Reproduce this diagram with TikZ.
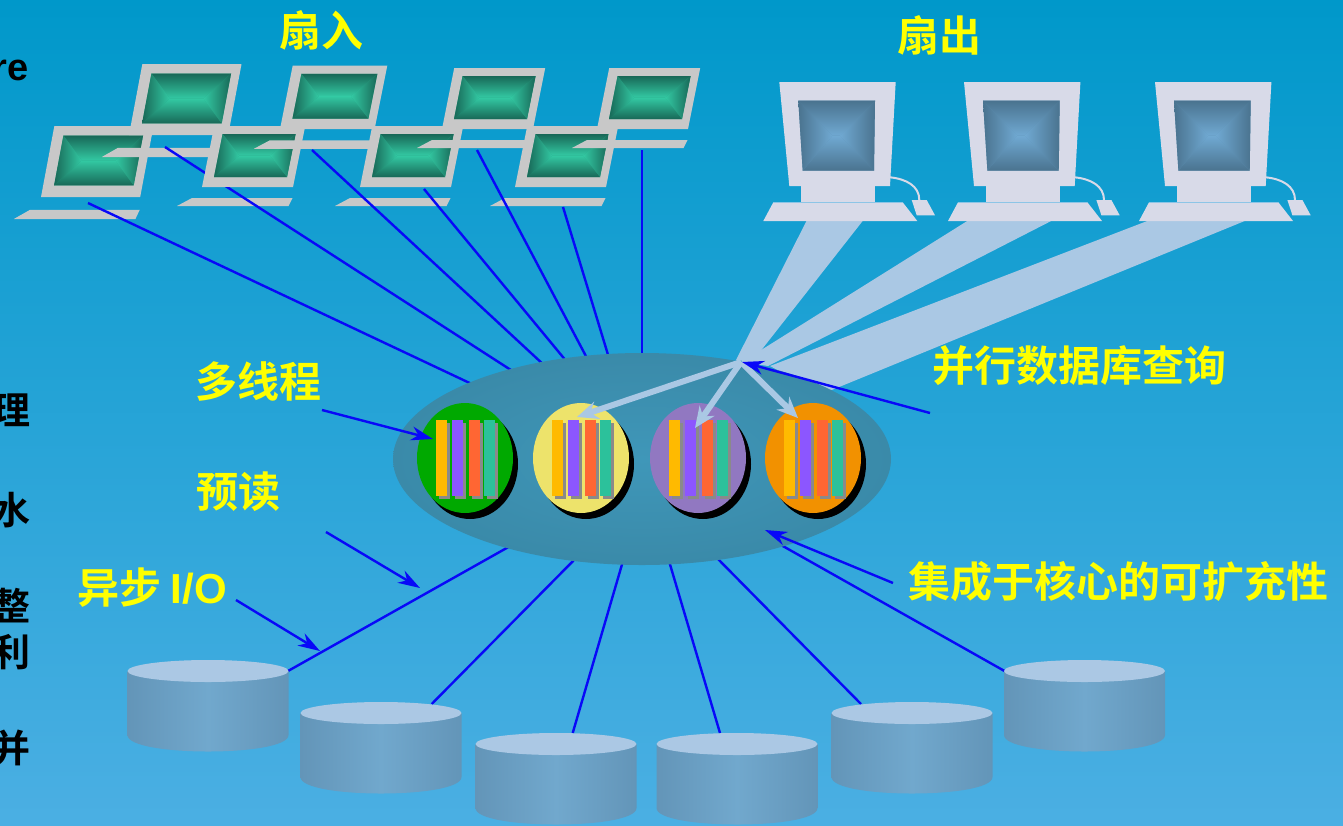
\documentclass[tikz,border=0pt]{standalone}
\usepackage{fontspec}
\usetikzlibrary{arrows.meta,calc,shapes.geometric}
\newfontfamily\cjkfont{Noto Sans CJK SC}[BoldFont={Noto Sans CJK SC Bold}]
\newfontfamily\sansfont{Liberation Sans}

\definecolor{bgtop}{HTML}{0098CA}
\definecolor{bgbot}{HTML}{4BAFE3}
\definecolor{lidgray}{HTML}{C8C8C8}
\definecolor{lapdark}{HTML}{186857}
\definecolor{lapbright}{HTML}{33C9A3}
\definecolor{montone}{HTML}{D8DAE8}
\definecolor{mondark}{HTML}{4A738F}
\definecolor{monbright}{HTML}{70A9D2}
\definecolor{keyline}{HTML}{8DC5E6}
\definecolor{beam}{HTML}{AAC8E4}
\definecolor{coreblue}{HTML}{3A8AA9}
\definecolor{corelight}{HTML}{3F97B9}
\definecolor{disktop}{HTML}{ABC8E4}
\definecolor{diskside}{HTML}{6395B8}
\definecolor{diskmid}{HTML}{71A8CD}
\definecolor{wireblue}{HTML}{0808F8}
\definecolor{labelyellow}{HTML}{FFFF00}
\definecolor{cpugreen}{HTML}{00A900}
\definecolor{cpuyellow}{HTML}{EDE36B}
\definecolor{cpupurple}{HTML}{9178C1}
\definecolor{cpuorange}{HTML}{F29100}
\definecolor{barA}{HTML}{FFBA00}
\definecolor{barB}{HTML}{8C56FF}
\definecolor{barC}{HTML}{FF6633}
\definecolor{barD}{HTML}{2CC19B}
\definecolor{barshadow}{HTML}{8A8A8A}

\tikzset{
  wire/.style={draw=wireblue, line width=2.4pt},
  bluearrow/.style={draw=wireblue, line width=2.4pt,
    -{Stealth[length=22pt,width=14pt,inset=7pt]}},
  lightarrow/.style={draw=beam, line width=6pt,
    -{Stealth[length=21pt,width=18pt,inset=7pt]}},
  lbl/.style={text=labelyellow, inner sep=0pt,
    font=\cjkfont\bfseries\fontsize{42}{46}\selectfont},
  cutcjk/.style={text=black, inner sep=0pt, anchor=east,
    font=\cjkfont\bfseries\fontsize{38}{42}\selectfont},
  cutlatin/.style={text=black, inner sep=0pt, anchor=east,
    font=\sansfont\bfseries\fontsize{38}{42}\selectfont},
}

% screen with a "pillow" glow: needs (sTL),(sTR),(sBR),(sBL)
\newcommand\pillow[3]{%
  \coordinate (sC) at ($(sTL)!0.5!(sBR)$);
  \coordinate (sL) at ($(sTL)!0.5!(sBL)$);
  \coordinate (sR) at ($(sTR)!0.5!(sBR)$);
  \coordinate (sM1) at ($(sC)!#3!(sL)$);
  \coordinate (sM2) at ($(sC)!#3!(sR)$);
  \fill[#2!55!#1] (sTL) -- (sTR) -- (sBR) -- (sBL) -- cycle;
  \shade[top color=#1, bottom color=#2] (sTL) -- (sTR) -- (sM2) -- (sM1) -- cycle;
  \shade[top color=#2, bottom color=#1] (sBL) -- (sBR) -- (sM2) -- (sM1) -- cycle;
  \shade[left color=#1, right color=#2] (sTL) -- (sM1) -- (sBL) -- cycle;
  \shade[left color=#2, right color=#1] (sTR) -- (sM2) -- (sBR) -- cycle;
}

% laptop: #1,#2 lower left corner of the lid, #3 xscale, #4 yscale
\newcommand\drawlaptop[4]{%
  \begin{scope}[shift={(#1,#2)}, xscale=#3, yscale=#4]
    \fill[lidgray] (0,0) -- (91,0) -- (103.2,-61) -- (12.2,-61) -- cycle;
    \coordinate (sTL) at (20.6,-53);
    \coordinate (sTR) at (93.6,-53);
    \coordinate (sBR) at (85,-10);
    \coordinate (sBL) at (12,-10);
    \pillow{lapdark}{lapbright}{0.42}
    \fill[lidgray] (-25,19) -- (-10,11) -- (90.6,11) -- (86.6,19) -- cycle;
  \end{scope}}

% desktop terminal: #1,#2 top left corner of the monitor
\newcommand\drawmonitor[2]{%
  \begin{scope}[shift={(#1,#2)}]
    \fill[montone] (0,0) -- (116.4,0) -- (110.7,104) -- (10,104) -- cycle;
    \coordinate (sTL) at (19,18.7);
    \coordinate (sTR) at (95.7,18.7);
    \coordinate (sBR) at (94.7,88.7);
    \coordinate (sBL) at (23.4,88.7);
    \pillow{mondark}{monbright}{0.1}
    \fill[montone] (21.7,103) rectangle (95.7,120.6);
    \draw[montone, line width=2pt] (110.7,95.3) .. controls (127,97) and (140,104) .. (140,118);
    \fill[montone] (-6,120.3) -- (123.4,120.3) -- (138,139) -- (-16,139) -- cycle;
    \draw[keyline, line width=0.8pt] (-6,120.3) -- (123.4,120.3);
    \fill[montone] (132.4,118) -- (147.4,118) -- (155.7,133.3) -- (137.4,133.3) -- cycle;
  \end{scope}}

% processor disc with its four bars: #1 centre x, #2 fill colour
\newcommand\drawcpu[2]{%
  \fill[black] (#1+5,464) ellipse [x radius=48, y radius=55];
  \fill[#2] (#1,458) ellipse [x radius=48, y radius=55];
  \foreach \bx/\bc in {-29/barA,-13/barB,4/barC,19/barD}{
    \fill[barshadow] (#1+\bx+3,423) rectangle ++(10.5,76);
    \fill[\bc] (#1+\bx,420) rectangle ++(10.5,76);
  }}

% disk drum: #1 centre x, #2 centre y of the top face
\newcommand\drawdisk[2]{%
  \shade[left color=diskside, right color=diskside, middle color=diskmid]
    (#1-80.5,#2) -- (#1-80.5,#2+64)
    .. controls (#1-80.5,#2+86) and (#1+80.5,#2+86) .. (#1+80.5,#2+64)
    -- (#1+80.5,#2) -- cycle;
  \fill[disktop] (#1,#2) ellipse [x radius=80.5, y radius=11];}

\begin{document}
\begin{tikzpicture}[x=1pt, y=-1pt]
\useasboundingbox (0,0) rectangle (1343,825);
\shade[top color=bgtop, bottom color=bgbot] (0,0) rectangle (1343,825);

% ---- fan-in clients
\drawlaptop{41}{197}{1.09}{1.16}
\drawlaptop{129}{135}{1.09}{1.16}
\drawlaptop{202}{187}{1}{1}
\drawlaptop{280}{129}{1.04}{1.04}
\drawlaptop{360}{187}{1}{1}
\drawlaptop{442}{129}{1}{1}
\drawlaptop{515}{187}{1}{1}
\drawlaptop{597}{129}{1}{1}

% ---- client connections into the core
\coordinate (l1s) at (88,203);  \coordinate (l1e) at (476,386);
\coordinate (l2s) at (165,147); \coordinate (l2e) at (514,372);
\coordinate (l3s) at (312,150); \coordinate (l3e) at (545,366);
\coordinate (l4s) at (424,189); \coordinate (l4e) at (567,362);
\coordinate (l5s) at (477,150); \coordinate (l5e) at (588,360);
\coordinate (l6s) at (563,207); \coordinate (l6e) at (609,358);
\coordinate (l7s) at (642,150); \coordinate (l7e) at (642,358);
\draw[wire] (l1s) -- (l1e);
\begin{scope}[even odd rule]
  \clip (0,0) rectangle (1343,825)
    (202,187) -- (293,187) -- (305.2,126) -- (214.2,126) -- cycle;
  \draw[wire] (l2s) -- (l2e);
\end{scope}
\draw[wire] (l3s) -- (l3e);
\draw[wire] (l4s) -- (l4e);
\draw[wire] (l5s) -- (l5e);
\draw[wire] (l6s) -- (l6e);
\draw[wire] (l7s) -- (l7e);

% ---- fan-out beams
\fill[beam] (808,218) -- (865,218) -- (752,362) -- (736,360) -- cycle;
\fill[beam] (972,218) -- (1057,218) -- (768,366) -- (742,362) -- cycle;
\fill[beam] (1155,218) -- (1252,218) -- (822,394) -- (770,366) -- cycle;

\drawmonitor{779.3}{82}
\drawmonitor{964}{82}
\drawmonitor{1155}{82}

% ---- connections from the core to the disks
\coordinate (d1s) at (512,545); \coordinate (d1e) at (288,671);
\coordinate (d2s) at (576,558); \coordinate (d2e) at (431.7,704);
\coordinate (d3s) at (623,561); \coordinate (d3e) at (572.7,733);
\coordinate (d4s) at (669,561); \coordinate (d4e) at (720,733);
\coordinate (d5s) at (717,558); \coordinate (d5e) at (861,704);
\coordinate (d6s) at (781,545); \coordinate (d6e) at (1004.5,671);
\foreach \k in {1,...,6}{\draw[wire] (d\k s) -- (d\k e);}

% ---- core
\node[ellipse, minimum width=498pt, minimum height=212pt, inner sep=0pt,
      inner color=corelight, outer color=coreblue] (core) at (642,459) {};
\drawcpu{465}{cpugreen}
\drawcpu{581}{cpuyellow}
\drawcpu{698}{cpupurple}
\drawcpu{813}{cpuorange}

\coordinate (apex) at (741,362);
\coordinate (tY) at (577,417);
\coordinate (tP) at (695,428);
\coordinate (tO) at (798,418);
\draw[lightarrow] (apex) -- (tY);
\draw[lightarrow] (apex) -- (tP);
\draw[lightarrow] (apex) -- (tO);

% ---- disks
\drawdisk{208}{671}
\drawdisk{381}{713}
\drawdisk{556}{744}
\drawdisk{737}{744}
\drawdisk{912}{713}
\drawdisk{1084.5}{671}

% ---- text column cut at the left edge
\node[cutlatin] (c1) at (29,70) {re};
\node[cutcjk] (c2) at (31,410) {理};
\node[cutcjk] (c3) at (31,510) {水};
\node[cutcjk] (c4) at (31,606) {整};
\node[cutcjk] (c5) at (31,652) {利};
\node[cutcjk] (c6) at (31,748) {并};

% ---- labels
\node[lbl] (fanin) at (321,30) {扇入};
\node[lbl] (fanout) at (939,35) {扇出};
\node[lbl] (thr) at (258,382) {多线程};
\node[lbl] (pre) at (238,492) {预读};
\node[lbl] (aio) at (152,588) {异步 {\sansfont\bfseries I/O}};
\node[lbl] (pq) at (1079,366) {并行数据库查询};
\node[lbl] (ext) at (1118,582) {集成于核心的可扩充性};

\coordinate (a1s) at (322,410);  \coordinate (a1e) at (433,439);
\coordinate (a2s) at (326,532);  \coordinate (a2e) at (420,588);
\coordinate (a3s) at (236,600);  \coordinate (a3e) at (320,651);
\coordinate (a4s) at (930,413);  \coordinate (a4e) at (742,362);
\coordinate (a5s) at (893,583);  \coordinate (a5e) at (765,530);
\draw[bluearrow] (a1s) -- (a1e);
\draw[bluearrow] (a2s) -- (a2e);
\draw[bluearrow] (a3s) -- (a3e);
\draw[bluearrow] (a4s) -- (a4e);
\draw[bluearrow] (a5s) -- (a5e);
\end{tikzpicture}
\end{document}
